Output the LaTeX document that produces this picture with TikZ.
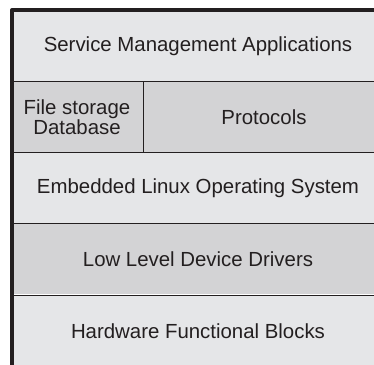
\documentclass[tikz,border=0pt]{standalone}
\usepackage{fontspec}
\setmainfont{Liberation Sans}
\definecolor{lite}{RGB}{229,230,232}
\definecolor{dark}{RGB}{211,211,213}
\definecolor{ink}{RGB}{35,31,32}
\begin{document}
\begin{tikzpicture}[x=1pt,y=-1pt,line join=round,text=ink,
	font=\fontsize{20.4}{20.4}\selectfont,
	sep/.style={draw=ink,line width=1pt},
	frame/.style={draw=ink,line width=3.8pt}]
	\useasboundingbox (0,0) rectangle (374,364);
	\clip (0,0) rectangle (374,364);
	% bands, top to bottom
	\foreach \y/\c in {10/lite,81/dark,152/lite,223/dark,295/lite}
	{\fill[\c] (12,\y) rectangle ++(380,71);}
	\path (12,81)coordinate(A)--(143,81)coordinate(B)--(143,152)coordinate(C);
	\draw[sep] (A)--(392,81) (12,152)coordinate(D)--(392,152) (12,223)--(392,223) (12,295)--(392,295);
	\draw[sep] (B)--(C);
	\draw[frame] (12,380)--(12,10.2)--(392,10.2);
	% labels
	\node (svc) at (198,46) {Service Management Applications};
	\node[align=center] (fs) at (77,117) {File storage\\Database};
	\node (prot) at (264,117) {Protocols};
	\node (os) at (198,188) {Embedded Linux Operating System};
	\node (drv) at (198,259) {Low Level Device Drivers};
	\node (hw) at (198,331) {Hardware Functional Blocks};
\end{tikzpicture}
\end{document}
